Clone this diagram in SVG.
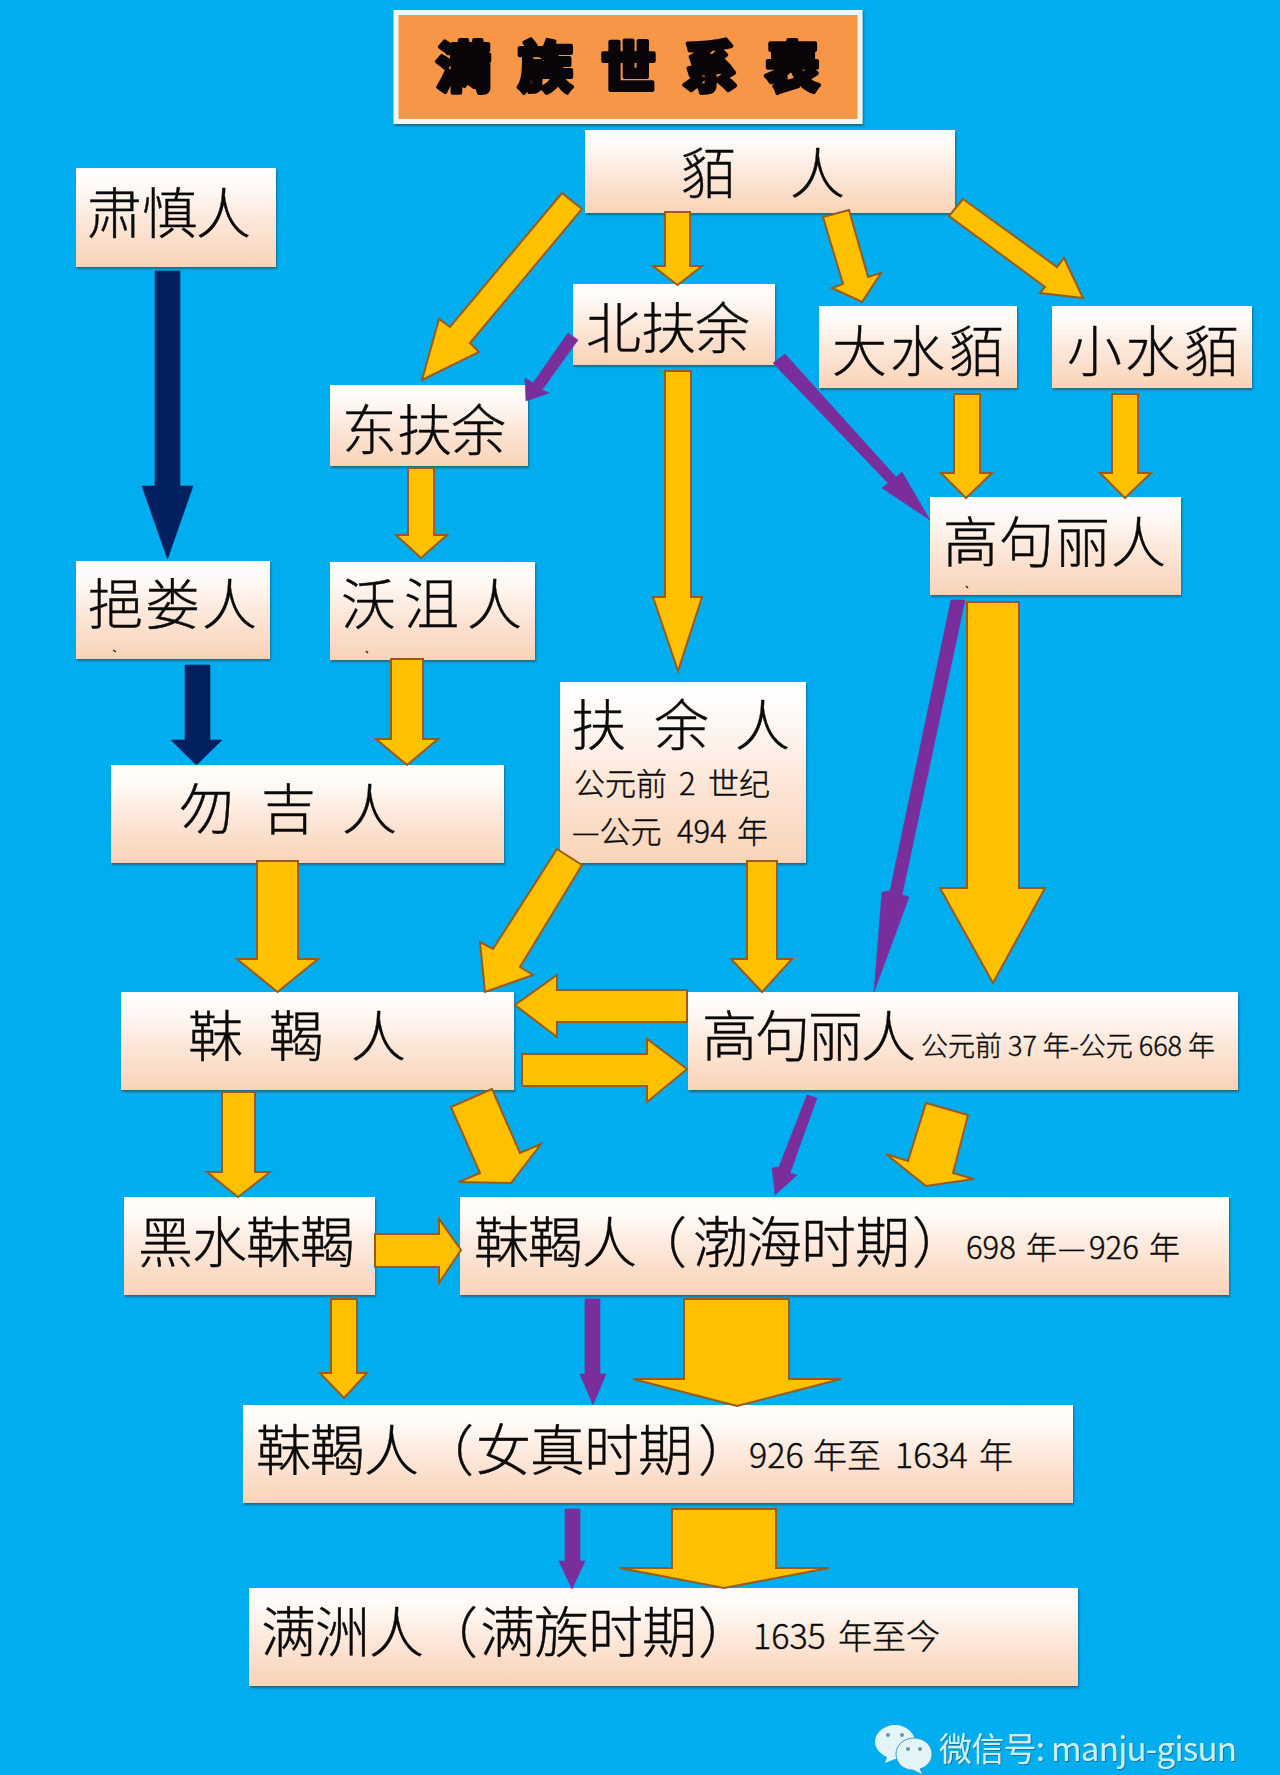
<svg xmlns="http://www.w3.org/2000/svg" width="1280" height="1775" viewBox="0 0 1280 1775">
<style>
text{font-family:"Noto Sans CJK SC","Noto Sans CJK TC",sans-serif;fill:#0a0a0a}
.b{font-size:55px;font-weight:300;stroke:#0a0a0a;stroke-width:.4}
.s{font-size:31px;font-weight:300;stroke:#0a0a0a;stroke-width:.4}
.s2{font-size:27px;font-weight:300;stroke:#0a0a0a;stroke-width:.4}
.s3{font-size:34px;font-weight:300;stroke:#0a0a0a;stroke-width:.4}
.n{fill:url(#g);filter:url(#sh)}
.o{fill:#ffc000;stroke:#9c5a1a;stroke-width:2;stroke-linejoin:miter}
.p{fill:#7a2e9c;stroke:#7a2e9c;stroke-width:.6}
.d{fill:#002060;stroke:#002060;stroke-width:.6}
.t{font-size:55px;font-weight:900;fill:#0a0508;stroke:#0a0508;stroke-width:4;stroke-linejoin:round}
.w{font-size:33px;fill:#c9eff6;filter:url(#ws)}
.m{fill:none;stroke:#222;stroke-width:1.4}
</style>
<defs>
<linearGradient id="g" x1="0" y1="0" x2="0" y2="1">
<stop offset="0" stop-color="#ffffff"/><stop offset=".2" stop-color="#fff9f5"/><stop offset=".6" stop-color="#fce4d4"/><stop offset="1" stop-color="#f9d3b6"/>
</linearGradient>
<filter id="sh" x="-5%" y="-5%" width="110%" height="115%"><feDropShadow dx="1" dy="2" stdDeviation="1" flood-color="#1a5a70" flood-opacity=".8"/></filter>
<filter id="ws" x="-5%" y="-10%" width="110%" height="125%"><feDropShadow dx="1" dy="1" stdDeviation=".6" flood-color="#1c6f86" flood-opacity=".9"/></filter>
</defs>
<rect width="1280" height="1775" fill="#00adef"/>
<g id="title">
<rect x="396" y="12.500" width="464" height="109" fill="#f79646" stroke="#eef7f5" stroke-width="5" filter="url(#sh)"/>
<text class="t" x="436 518 601 683 765" y="87">满族世系表</text>
</g>
<g id="node-mo"><rect class="n" x="585" y="130" width="370" height="83"/><text class="b" x="681 790" y="193">貊人</text></g>
<g id="node-sushen"><rect class="n" x="76" y="168" width="200" height="99"/><text class="b" x="87 142 196" y="233">肃慎人</text></g>
<g id="node-beifuyu"><rect class="n" x="573" y="284" width="202" height="81"/><text class="b" x="586 641 695" y="348">北扶余</text></g>
<g id="node-dashuimo"><rect class="n" x="819" y="306" width="198" height="82"/><text class="b" x="832 890 949" y="371">大水貊</text></g>
<g id="node-xiaoshuimo"><rect class="n" x="1052" y="306" width="200" height="82"/><text class="b" x="1067 1125 1184" y="371">小水貊</text></g>
<g id="node-dongfuyu"><rect class="n" x="330" y="385" width="198" height="81"/><text class="b" x="342 397 451" y="450">东扶余</text></g>
<g id="node-gaogouli-1"><rect class="n" x="930" y="497" width="251" height="98"/><text class="b" x="943 999 1055 1111" y="562">高句丽人</text><path class="m" d="M966 586l2 2"/></g>
<g id="node-yilou"><rect class="n" x="76" y="561" width="194" height="98"/><text class="b" x="88 145 202" y="624">挹娄人</text><path class="m" d="M113 650l3 2"/></g>
<g id="node-woju"><rect class="n" x="330" y="562" width="205" height="98"/><text class="b" x="341 404 467" y="624">沃沮人</text><path class="m" d="M366 651l2 2"/></g>
<g id="node-fuyu"><rect class="n" x="560" y="682" width="246" height="181"/><text class="b" x="571 654 735" y="745">扶余人</text>
<text class="s" y="795"><tspan x="574">公元前</tspan><tspan x="679">2</tspan><tspan x="708">世纪</tspan></text>
<text class="s" y="843"><tspan x="572">—公元</tspan><tspan x="677">494</tspan><tspan x="737">年</tspan></text></g>
<g id="node-wuji"><rect class="n" x="111" y="765" width="393" height="98"/><text class="b" x="179 261 342" y="829">勿吉人</text></g>
<g id="node-mohe"><rect class="n" x="121" y="992" width="393" height="98"/><text class="b" x="188 269 351" y="1056">靺鞨人</text></g>
<g id="node-gaogouli-2"><rect class="n" x="688" y="992" width="550" height="98"/><text class="b" x="702 755 808 861" y="1056">高句丽人</text>
<text class="s2" x="921" y="1056" textLength="294">公元前 37 年-公元 668 年</text></g>
<g id="node-heishui"><rect class="n" x="124" y="1197" width="251" height="98"/><text class="b" x="138 192 246 300" y="1262">黑水靺鞨</text></g>
<g id="node-bohai"><rect class="n" x="460" y="1197" width="769" height="98"/><text class="b" x="474 528 582 632 693 747 801 855 912" y="1262">靺鞨人（渤海时期）</text>
<text class="s" y="1259"><tspan x="966">698</tspan><tspan x="1026">年</tspan><tspan x="1058">—</tspan><tspan x="1089">926</tspan><tspan x="1149">年</tspan></text></g>
<g id="node-nuzhen"><rect class="n" x="243" y="1405" width="830" height="98"/><text class="b" x="256 310 364 419 476 530 584 638 698" y="1470">靺鞨人（女真时期）</text>
<text class="s3" y="1468"><tspan x="749">926</tspan><tspan x="813">年至</tspan><tspan x="895">1634</tspan><tspan x="979">年</tspan></text></g>
<g id="node-manzhou"><rect class="n" x="249" y="1588" width="829" height="98"/><text class="b" x="261 315 369 423 480 534 588 642 698" y="1652">满洲人（满族时期）</text>
<text class="s3" y="1649"><tspan x="753">1635</tspan><tspan x="838">年至今</tspan></text></g>
<g id="connectors">
<polygon class="o" points="562,193 582,209 470,343 479,352 422,380 439,319 450,327"/>
<polygon class="o" points="665,212 690,212 690,266 702,266 677.500,285 653,266 665,266"/>
<polygon class="o" points="823,217 849,210 868,277 881,273 862,302 832,288 843,284"/>
<polygon class="o" points="963,199 949,216 1045,287 1040,293 1083,298 1064,258 1057,267"/>
<polygon class="p" points="568,333 578,340 542,390 549,393 526,401 525,378 533,383"/>
<polygon class="o" points="665,371 691,371 691,597 702,597 678,671 653,597 665,597"/>
<polygon class="p" points="785,354 773,363 888,483 882,488 930,520 902,472 896,477"/>
<polygon class="o" points="954,394 980,394 980,473 992,473 966,498 941,473 954,473"/>
<polygon class="o" points="1112,394 1138,394 1138,473 1151,473 1125,498 1100,473 1112,473"/>
<polygon class="d" points="155,271 180,271 180,486 193,486 167.500,559 142,486 155,486"/>
<polygon class="o" points="408,468 434,468 434,535 447,535 421,558 396,535 408,535"/>
<polygon class="d" points="185,665 210,665 210,740 222,740 196.500,765 171,740 185,740"/>
<polygon class="o" points="391,659 423,659 423,739 438,739 407,765 376,739 391,739"/>
<polygon class="o" points="257,861 298,861 298,959 318,959 277.500,992 237,959 257,959"/>
<polygon class="o" points="557,849 582,865 520,967 533,975 485,992 480,942 493,949"/>
<polygon class="o" points="747,861 777,861 777,959 792,959 762,992 731,959 747,959"/>
<polygon class="p" points="951,600 965,600 902,895 909,897 874,992 882,892 890,891"/>
<polygon class="o" points="967,602 1019,602 1019,888 1045,888 993,983 940,888 967,888"/>
<polygon class="o" points="687,990 687,1022 557,1022 557,1037 515,1005 557,975 557,990"/>
<polygon class="o" points="522,1054 647,1054 647,1039 687,1069 647,1102 647,1086 522,1086"/>
<polygon class="o" points="222,1092 255,1092 255,1172 270,1172 238,1197 207,1172 222,1172"/>
<polygon class="o" points="492,1089 451,1107 480,1173 459,1182 511,1183 541,1144 520,1153"/>
<polygon class="p" points="807,1095 817,1098 790,1173 797,1175 775,1195 772,1168 779,1167"/>
<polygon class="o" points="926,1103 968,1115 953,1173 974,1179 926,1186 886,1154 908,1161"/>
<polygon class="o" points="375,1234 439,1234 439,1219 461,1250 439,1283 439,1267 375,1267"/>
<polygon class="o" points="331,1299 357,1299 357,1373 367,1373 344,1398 320,1373 331,1373"/>
<polygon class="p" points="585,1299 600,1299 600,1374 606,1374 593,1405 580,1374 585,1374"/>
<polygon class="o" points="684,1299 789,1299 789,1379 841,1379 737,1406 633,1379 684,1379"/>
<polygon class="p" points="565,1509 580,1509 580,1561 585,1561 572,1589 559,1561 565,1561"/>
<polygon class="o" points="672,1509 776,1509 776,1568 829,1568 724,1588 620,1568 672,1568"/>
</g>
<g id="watermark">
<path d="M895 1725c11 0 20 8 20 17 0 10-9 17-20 17l-10 4 2-6c-7-3-12-9-12-15 0-9 9-17 20-17z" fill="#e2f4f8"/>
<path d="M914 1738c10 0 18 7 18 16 0 8-6 13-12 15l3 6-10-5c-10 0-17-7-17-16s8-16 18-16z" fill="#e2f4f8" stroke="#3f9fc0" stroke-width="1"/>
<circle cx="888" cy="1735" r="2" fill="#5f97a8"/><circle cx="902" cy="1735" r="2" fill="#5f97a8"/>
<circle cx="908" cy="1749" r="2" fill="#5f97a8"/><circle cx="920" cy="1749" r="2" fill="#5f97a8"/>
<text class="w" x="939" y="1761" textLength="298">微信号: manju-gisun</text>
</g>
</svg>
